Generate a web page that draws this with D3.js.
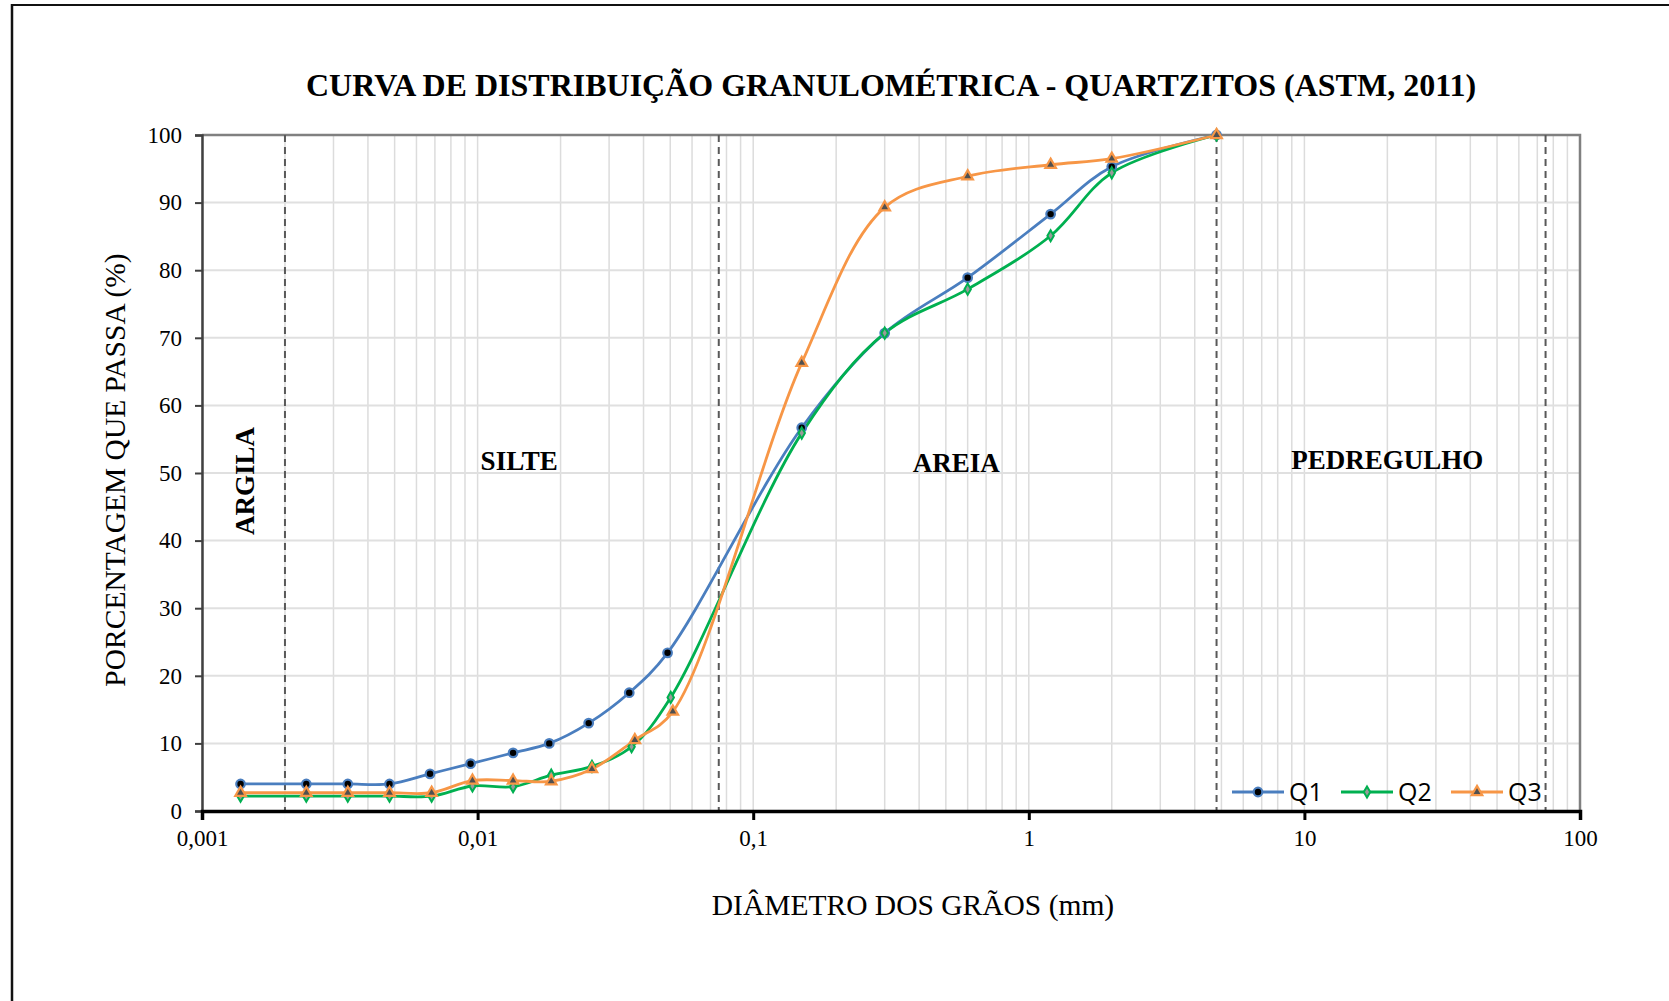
<!DOCTYPE html>
<html><head><meta charset="utf-8">
<script src="https://cdn.jsdelivr.net/npm/d3@7"></script>
<style>html,body{margin:0;padding:0;background:#fff;}svg{display:block;}</style>
</head><body>
<svg id="chart" width="1669" height="1001"></svg>
<script>
// ---- data ----
const seriesNames = ["Q1", "Q2", "Q3"];
const q1Diam = [0.00138, 0.00239, 0.00338, 0.00479, 0.00672, 0.00943, 0.01345, 0.0182, 0.0253, 0.0355, 0.0489, 0.15, 0.30, 0.60, 1.2, 2.0, 4.8];
const q1Pass = [4.0, 4.0, 4.0, 4.0, 5.5, 7.0, 8.6, 10.0, 13.0, 17.5, 23.4, 56.7, 70.7, 78.9, 88.3, 95.3, 100];
const q2Diam = [0.00138, 0.00239, 0.00338, 0.00479, 0.00681, 0.00958, 0.01345, 0.0185, 0.0260, 0.0362, 0.0502, 0.15, 0.30, 0.60, 1.2, 2.0, 4.8];
const q2Pass = [2.2, 2.2, 2.2, 2.2, 2.2, 3.7, 3.6, 5.3, 6.6, 9.5, 16.8, 55.9, 70.7, 77.2, 85.1, 94.4, 100];
const q3Diam = [0.00138, 0.00239, 0.00338, 0.00479, 0.00681, 0.00958, 0.01345, 0.0185, 0.0260, 0.0372, 0.0511, 0.15, 0.30, 0.60, 1.2, 2.0, 4.8];
const q3Pass = [2.7, 2.7, 2.7, 2.7, 2.7, 4.5, 4.5, 4.4, 6.2, 10.5, 14.7, 66.3, 89.3, 93.9, 95.6, 96.5, 100];
const xTickValues = [0.001, 0.01, 0.1, 1, 10, 100];
const xTickLabels = ["0,001", "0,01", "0,1", "1", "10", "100"];
const yTickValues = [0, 10, 20, 30, 40, 50, 60, 70, 80, 90, 100];
const boundaries = [0.002, 0.075, 4.8, 75];
const regionNames = ["ARGILA", "SILTE", "AREIA", "PEDREGULHO"];
const regionCenters = [0.001433, 0.01415, 0.546, 20.0];
const regionLevels = [48.8, 51.8, 51.5, 51.9];
const titleText = "CURVA DE DISTRIBUIÇÃO GRANULOMÉTRICA - QUARTZITOS (ASTM, 2011)";
const xTitle = "DIÂMETRO DOS GRÃOS (mm)";
const yTitle = "PORCENTAGEM QUE PASSA (%)";

// ---- layout ----
const L = 202, R = 1580, T = 135, B = 811;
const serif = "'Liberation Serif','Times New Roman',serif";
const svg = d3.select("#chart");
const x = d3.scaleLog().domain([0.001, 100]).range([L, R]);
const y = d3.scaleLinear().domain([0, 100]).range([B, T]);

// outer frame (left & top edges visible)
svg.append("line").attr("x1", 12).attr("x2", 12).attr("y1", 4).attr("y2", 1001).attr("stroke", "#111").attr("stroke-width", 2.5);
svg.append("line").attr("x1", 12).attr("x2", 1669).attr("y1", 5).attr("y2", 5).attr("stroke", "#111").attr("stroke-width", 2);

// grid
const minor = [];
for (let e = -3; e < 2; e++) for (let m = 1; m <= 9; m++) minor.push(m * Math.pow(10, e));
minor.push(100);
svg.append("g").selectAll("line").data(minor).join("line")
  .attr("x1", d => x(d)).attr("x2", d => x(d)).attr("y1", T).attr("y2", B)
  .attr("stroke", "#dcdcdc").attr("stroke-width", 1.5);
svg.append("g").selectAll("line").data(yTickValues).join("line")
  .attr("x1", L).attr("x2", R).attr("y1", d => y(d)).attr("y2", d => y(d))
  .attr("stroke", "#e0e0e0").attr("stroke-width", 2);

// plot border top/right
svg.append("path").attr("d", `M${L},${T}H${R}V${B}`).attr("fill", "none").attr("stroke", "#808080").attr("stroke-width", 2.5);

// boundary dashed lines
svg.append("g").selectAll("line").data(boundaries).join("line")
  .attr("x1", d => x(d)).attr("x2", d => x(d)).attr("y1", T).attr("y2", B)
  .attr("stroke", "#595959").attr("stroke-width", 2).attr("stroke-dasharray", "7,5");

// axes
const yAxis = d3.axisLeft(y).tickValues(yTickValues).tickSize(7).tickPadding(13).tickFormat(d3.format("d"));
const gy = svg.append("g").attr("transform", `translate(${L},0)`).call(yAxis);
gy.select(".domain").attr("stroke", "#404040").attr("stroke-width", 2.5);
gy.selectAll(".tick line").attr("stroke", "#404040").attr("stroke-width", 2);
gy.selectAll("text").attr("font-family", serif).attr("font-size", 23).attr("fill", "#000");

const xAxis = d3.axisBottom(x).tickValues(xTickValues).tickSize(9).tickPadding(10).tickFormat((d, i) => xTickLabels[i]);
const gx = svg.append("g").attr("transform", `translate(0,${B})`).call(xAxis);
gx.select(".domain").attr("stroke", "#000").attr("stroke-width", 3.5);
gx.selectAll(".tick line").attr("stroke", "#000").attr("stroke-width", 3);
gx.selectAll("text").attr("font-family", serif).attr("font-size", 23).attr("fill", "#000");

// region labels
regionNames.forEach((name, i) => {
  const t = svg.append("text").text(name)
    .attr("font-family", serif).attr("font-weight", "bold").attr("font-size", 27)
    .attr("text-anchor", "middle").attr("fill", "#000");
  if (i === 0) {
    t.attr("transform", `translate(${x(regionCenters[i]) + 9},${y(regionLevels[i])}) rotate(-90)`);
  } else {
    t.attr("x", x(regionCenters[i])).attr("y", y(regionLevels[i]) + 9);
  }
});

// series
const series = [
  {name: seriesNames[0], d: q1Diam, p: q1Pass, color: "#4a7ebf", marker: "circle"},
  {name: seriesNames[1], d: q2Diam, p: q2Pass, color: "#00b050", marker: "diamond"},
  {name: seriesNames[2], d: q3Diam, p: q3Pass, color: "#f79646", marker: "triangle"}
];
const line = d3.line().x(v => x(v[0])).y(v => y(v[1])).curve(d3.curveCatmullRom.alpha(0.5));

function drawMarker(g, type, color, cx, cy) {
  if (type === "circle") {
    g.append("circle").attr("cx", cx).attr("cy", cy).attr("r", 4.3)
      .attr("fill", "#000").attr("stroke", color).attr("stroke-width", 2.2);
  } else if (type === "diamond") {
    g.append("path").attr("d", d3.symbol(d3.symbolDiamond, 36)())
      .attr("transform", `translate(${cx},${cy})`)
      .attr("fill", "#9a9a9a").attr("stroke", color).attr("stroke-width", 2);
  } else {
    g.append("path").attr("d", d3.symbol(d3.symbolTriangle, 48)())
      .attr("transform", `translate(${cx},${cy})`)
      .attr("fill", "#505050").attr("stroke", color).attr("stroke-width", 2.2);
  }
}

series.forEach(s => {
  const pts = s.d.map((d, i) => [d, s.p[i]]);
  svg.append("path").datum(pts).attr("d", line).attr("fill", "none")
    .attr("stroke", s.color).attr("stroke-width", 2.8);
});
series.forEach(s => {
  const g = svg.append("g");
  s.d.forEach((d, i) => drawMarker(g, s.marker, s.color, x(d), y(s.p[i])));
});

// legend
const legY = 792;
const legX = [1232, 1341, 1451];
series.forEach((s, i) => {
  const g = svg.append("g");
  g.append("line").attr("x1", legX[i]).attr("x2", legX[i] + 52).attr("y1", legY).attr("y2", legY)
    .attr("stroke", s.color).attr("stroke-width", 2.8);
  drawMarker(g, s.marker, s.color, legX[i] + 26, legY);
  g.append("text").text(s.name).attr("x", legX[i] + 57).attr("y", legY + 9)
    .attr("font-family", "'Open Sans','Liberation Sans',sans-serif").attr("font-size", 25).attr("fill", "#000");
});

// titles
svg.append("text").text(titleText).attr("x", 891).attr("y", 96)
  .attr("text-anchor", "middle").attr("font-family", serif).attr("font-weight", "bold").attr("font-size", 32);
svg.append("text").text(xTitle).attr("x", 913).attr("y", 915)
  .attr("text-anchor", "middle").attr("font-family", serif).attr("font-size", 29.5);
svg.append("text").text(yTitle).attr("transform", `translate(125,470) rotate(-90)`)
  .attr("text-anchor", "middle").attr("font-family", serif).attr("font-size", 29.5);
</script>
</body></html>
